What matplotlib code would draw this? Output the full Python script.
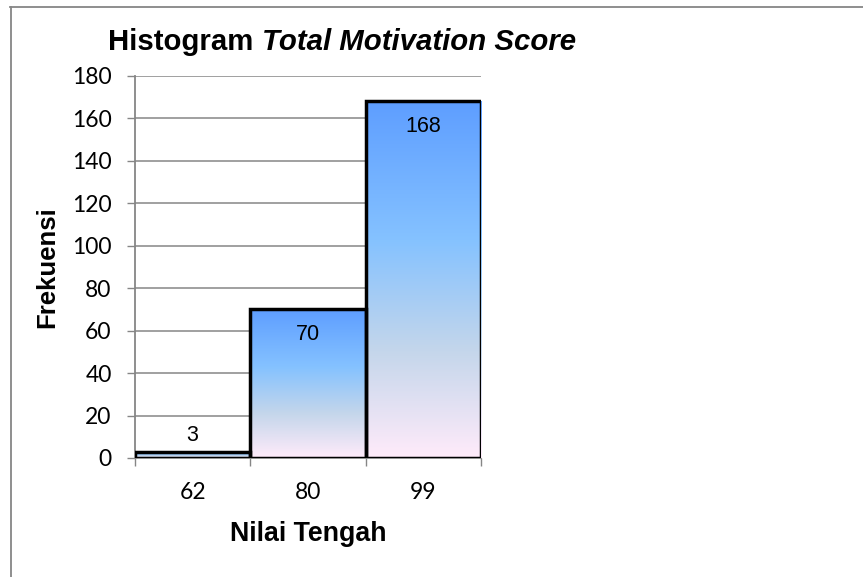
import matplotlib
matplotlib.use("Agg")
import matplotlib.pyplot as plt
import numpy as np
from matplotlib.colors import LinearSegmentedColormap
from matplotlib.lines import Line2D

categories = ["62", "80", "99"]
values = [3, 70, 168]
yticks = [0, 20, 40, 60, 80, 100, 120, 140, 160, 180]

W, H = 863, 577
fig = plt.figure(figsize=(W / 100, H / 100), dpi=100)
fig.patch.set_facecolor("white")

# axes placement (pixels)
L, R, T, B = 135, 481, 76, 458
ax = fig.add_axes([L / W, 1 - B / H, (R - L) / W, (B - T) / H])

grey = "#868686"
cmap = LinearSegmentedColormap.from_list(
    "daybreak",
    [(0.0, "#5E9EFF"), (0.39, "#85C2FF"), (0.70, "#C4D6EB"), (1.0, "#FFEBFA")],
)
grad = np.linspace(0, 1, 256).reshape(-1, 1)

x = np.arange(len(values))
ax.set_xlim(-0.5, len(values) - 0.5)
ax.set_ylim(0, 180)

for yv in yticks[1:]:
    ax.axhline(yv, color=grey, lw=1.1, zorder=0)

bars = ax.bar(x, values, width=1.0, facecolor="none", edgecolor="black",
              linewidth=2.5, zorder=3)
for b in bars:
    x0, y0 = b.get_x(), b.get_y()
    w, h = b.get_width(), b.get_height()
    im = ax.imshow(grad, cmap=cmap, aspect="auto",
                   extent=[x0, x0 + w, y0, y0 + h], origin="upper", zorder=2)
    im.set_clip_path(b)

for xi, v in zip(x, values):
    if v > 20:
        ax.annotate(str(v), (xi, v), xytext=(0, -18), textcoords="offset points",
                    ha="center", va="center", fontsize=15.5,
                    family="Liberation Sans", zorder=4)
    else:
        ax.annotate(str(v), (xi, v), xytext=(0, 11.5), textcoords="offset points",
                    ha="center", va="center", fontsize=15.5,
                    family="Liberation Sans", zorder=4)

ax.set_xlim(-0.5, len(values) - 0.5)
ax.set_ylim(0, 180)

for s in ["top", "right"]:
    ax.spines[s].set_visible(False)
for s in ["left", "bottom"]:
    ax.spines[s].set_color(grey)
    ax.spines[s].set_linewidth(1.3)
    ax.spines[s].set_zorder(1)

ax.set_yticks(yticks)
ax.set_yticklabels([str(t) for t in yticks], family="Lato", fontsize=16.5)
ax.tick_params(axis="y", direction="out", length=5.8, width=1, color=grey, pad=11)

ax.set_xticks(np.arange(len(values) + 1) - 0.5)
ax.set_xticklabels([""] * (len(values) + 1))
ax.set_xticks(x, minor=True)
ax.set_xticklabels(categories, minor=True, family="Lato", fontsize=16.5)
ax.tick_params(axis="x", which="major", direction="out", length=5.5, width=1, color=grey)
ax.tick_params(axis="x", which="minor", length=0, pad=17.5)

# labels
fig.text(47 / W, 1 - 267 / H, "Frekuensi", rotation=90, ha="center", va="center",
         fontsize=18.5, fontweight="bold", family="Liberation Sans")
fig.text(308 / W, 1 - 541 / H, "Nilai Tengah", ha="center", va="baseline",
         fontsize=19.3, fontweight="bold", family="Liberation Sans")

# title with mixed styles
ty = 1 - 49.5 / H
t1 = fig.text(108 / W, ty, "Histogram ", ha="left", va="baseline",
              fontsize=21.2, fontweight="bold", family="Liberation Sans")
fig.canvas.draw()
bb = t1.get_window_extent()
fig.text(bb.x1 / W, ty, "Total Motivation Score", ha="left", va="baseline",
         fontsize=21.2, fontweight="bold", style="italic", family="Liberation Sans")

# outer border (partially visible)
fig.add_artist(Line2D([10 / W, 1.0], [1 - 6.5 / H, 1 - 6.5 / H], color=grey, lw=1.3,
                      transform=fig.transFigure))
fig.add_artist(Line2D([10.5 / W, 10.5 / W], [0, 1 - 6.5 / H], color=grey, lw=1.3,
                      transform=fig.transFigure))

fig.savefig("out.png", dpi=100)
